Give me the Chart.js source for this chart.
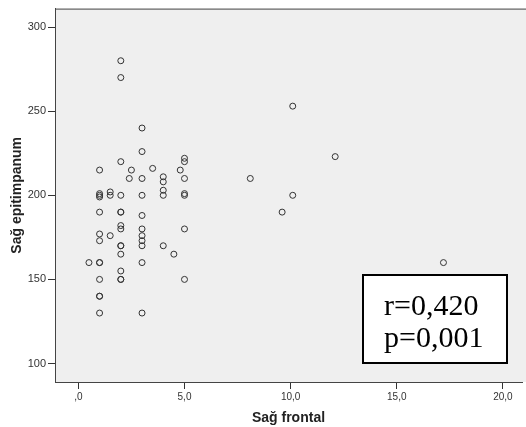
<!DOCTYPE html>
<html>
<head>
<meta charset="utf-8">
<script src="https://cdn.jsdelivr.net/npm/chart.js@4/dist/chart.umd.min.js"></script>
<style>
html,body{margin:0;padding:0;background:#fff;}
#wrap{width:526px;height:427px;position:relative;}
</style>
</head>
<body>
<div id="wrap"><canvas id="c" width="526" height="427"></canvas></div>
<script>
const xValues = [2,2,3,3,2,1,2.5,3.5,5,5,4.8,2.4,3,4,4,5,1,1,1,1.5,1.5,2,3,4,4,5,5,
  1,2,2,3,2,2,3,5,1,1.5,3,1,3,2,2,3,4,2,4.5,0.5,1,1,3,2,1,2,2,5,1,1,1,3,
  10.1,12.1,8.1,10.1,9.6,17.2];
const yValues = [280,270,240,226,220,215,215,216,222,220,215,210,210,211,208,210,200,201,199,202,200,200,200,203,200,200,201,
  190,190,190,188,182,180,180,180,177,176,176,173,173,170,170,170,170,165,165,160,160,160,160,155,150,150,150,150,140,140,130,130,
  253,223,210,200,190,160];
const xTicks = [0,5,10,15,20];
const yTicks = [100,150,200,250,300];
const xTickLabels = [",0","5,0","10,0","15,0","20,0"];
const xTitle = "Sağ frontal";
const yTitle = "Sağ epitimpanum";
const statLines = ["r=0,420","p=0,001"];

const points = xValues.map((x,i)=>({x:x,y:yValues[i]}));

const bgPlugin = {
  id:'bg',
  beforeDraw(chart){
    const {ctx, chartArea:a} = chart;
    ctx.save();
    ctx.fillStyle='#efefef';
    ctx.fillRect(a.left,a.top,chart.width-a.left,a.bottom-a.top);
    ctx.strokeStyle='#444';
    ctx.lineWidth=1;
    ctx.beginPath();
    ctx.moveTo(a.left,a.top+0.5);
    ctx.lineTo(chart.width,a.top+0.5);
    ctx.stroke();
    ctx.restore();
  }
};
const boxPlugin = {
  id:'statbox',
  afterDatasetsDraw(chart){
    const {ctx, chartArea:a} = chart;
    const left = chart.width-163, top = a.bottom-107, w = 144, h = 88;
    ctx.save();
    ctx.fillStyle='#fff';
    ctx.fillRect(left,top,w,h);
    ctx.strokeStyle='#000';
    ctx.lineWidth=2;
    ctx.strokeRect(left,top,w,h);
    ctx.fillStyle='#000';
    ctx.font='30px "Liberation Serif", "Times New Roman", serif';
    ctx.textBaseline='alphabetic';
    ctx.fillText(statLines[0], left+21, top+40);
    ctx.fillText(statLines[1], left+21, top+72);
    ctx.restore();
  }
};

new Chart(document.getElementById('c'), {
  type:'scatter',
  data:{datasets:[{
    data:points,
    pointRadius:3,
    pointHoverRadius:3,
    borderColor:'#333',
    borderWidth:1,
    backgroundColor:'rgba(0,0,0,0)'
  }]},
  options:{
    responsive:false,
    animation:false,
    events:[],
    layout:{padding:{top:5,right:0,left:0,bottom:0}},
    plugins:{legend:{display:false},tooltip:{enabled:false}},
    scales:{
      x:{
        type:'linear',
        min:-1.1, max:20.9,
        afterBuildTicks(s){ s.ticks = xTicks.map(v=>({value:v})); },
        afterFit(s){ s.height = 45; },
        ticks:{
          callback(v){ const i = xTicks.indexOf(v); return i>=0 ? xTickLabels[i] : ''; },
          color:'#333', font:{family:'"Liberation Sans", Arial, sans-serif', size:10}, padding:2, maxRotation:0
        },
        grid:{drawOnChartArea:false, tickLength:7, tickColor:'#333', tickWidth:1},
        border:{display:true, color:'#444', width:1},
        title:{display:true, text:xTitle, color:'#222', font:{family:'"Liberation Sans", Arial, sans-serif', size:14, weight:'bold'}, padding:{top:0,bottom:0}}
      },
      y:{
        type:'linear',
        min:89, max:311,
        afterBuildTicks(s){ s.ticks = yTicks.map(v=>({value:v})); },
        afterFit(s){ s.width = 55; },
        ticks:{
          callback(v){ return String(v); },
          color:'#333', font:{family:'"Liberation Sans", Arial, sans-serif', size:11}, padding:2
        },
        grid:{drawOnChartArea:false, tickLength:7, tickColor:'#333', tickWidth:1},
        border:{display:true, color:'#444', width:1},
        title:{display:true, text:yTitle, color:'#222', font:{family:'"Liberation Sans", Arial, sans-serif', size:14, weight:'bold'}, padding:{top:9,bottom:4}}
      }
    }
  },
  plugins:[bgPlugin, boxPlugin]
});
</script>
</body>
</html>
